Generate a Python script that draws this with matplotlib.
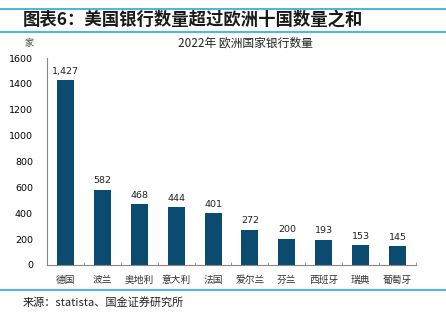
import matplotlib.pyplot as plt
from matplotlib.lines import Line2D

plt.rcParams['font.family'] = ['Noto Sans CJK SC', 'DejaVu Sans']

countries = ['德国', '波兰', '奥地利', '意大利', '法国', '爱尔兰', '芬兰', '西班牙', '瑞典', '葡萄牙']
banks = [1427, 582, 468, 444, 401, 272, 200, 193, 153, 145]

bar_color = '#0b4b6f'
rule_color = '#29a9e1'

fig = plt.figure(figsize=(4.46, 3.23), dpi=100)
ax = fig.add_axes([0.105, 0.180, 0.828, 0.640])

x = range(len(countries))
ax.bar(x, banks, width=0.46, color=bar_color)
for xi, v in zip(x, banks):
    ax.text(xi, v + 35, f'{v:,}', ha='center', va='bottom', fontsize=6.8,
            family='DejaVu Sans', color='#222222')

ax.set_ylim(0, 1600)
ax.set_xlim(-0.5, len(countries) - 0.5)
ax.set_yticks(range(0, 1601, 200))
ax.set_yticklabels([str(v) for v in range(0, 1601, 200)], fontsize=6.8,
                   family='DejaVu Sans')
ax.set_xticks(list(x))
ax.set_xticklabels(countries, fontsize=7, color='#333333')
ax.tick_params(axis='x', length=0, pad=7)
ax.tick_params(axis='y', length=0, pad=10)
# small marks between the categories
ax.set_xticks([i + 0.5 for i in range(-1, len(countries))], minor=True)
ax.tick_params(axis='x', which='minor', direction='in', length=2.5, color='#888888')
ax.spines['top'].set_visible(False)
ax.spines['right'].set_visible(False)
ax.spines['left'].set_color('#888888')
ax.spines['bottom'].set_color('#888888')
ax.spines['left'].set_linewidth(0.8)
ax.spines['bottom'].set_linewidth(0.8)

fig.text(0.05, 0.938, '图表6：美国银行数量超过欧洲十国数量之和', fontsize=12.5,
         fontweight='bold', color='#1a1a1a', va='center')
fig.text(0.55, 0.866, '2022年 欧洲国家银行数量', fontsize=8.5, ha='center',
         va='center', color='#222222')
fig.text(0.065, 0.866, '家', fontsize=6.5, ha='center', va='center', color='#444444')
fig.text(0.05, 0.065, '来源：statista、国金证券研究所', fontsize=8,
         va='center', color='#222222')

for yy in (0.972, 0.901, 0.102):
    fig.add_artist(Line2D([0, 1], [yy, yy], transform=fig.transFigure,
                          color=rule_color, lw=1.2))

fig.savefig('out.png', dpi=100)
